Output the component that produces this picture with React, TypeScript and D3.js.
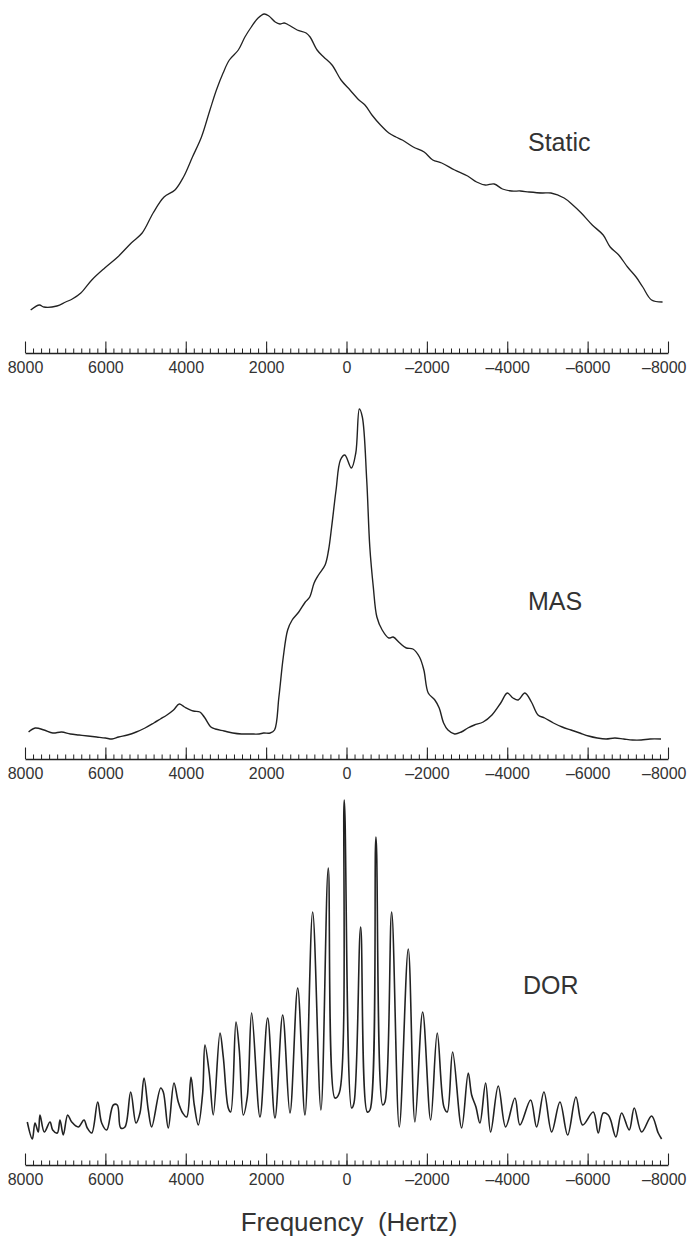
import React, { useEffect, useRef } from "react";
import * as d3 from "d3";

// frequency axis, drawn from +8000 Hz on the left to -8000 Hz on the right
const majorTicks = [8000, 6000, 4000, 2000, 0, -2000, -4000, -6000, -8000];
const tickLabels = ["8000", "6000", "4000", "2000", "0", "–2000", "–4000", "–6000", "–8000"];
const minorTicks = d3.range(-8000, 8001, 200);
const panelNames = ["Static", "MAS", "DOR"];

// static spectrum (Hz, arbitrary intensity)
const staticFreq = [
  7859, 7640, 7531, 7206, 6988, 6824, 6611, 6338, 6016, 5693, 5356, 5085, 4812, 4540, 4269, 4056,
  3833, 3609, 3398, 3237, 3071, 2915, 2692, 2528, 2369, 2200, 2047, 1930, 1774, 1657, 1550, 1439,
  1228, 1005, 906, 732, 568, 360, 136, -87, -310, -459, -633, -846, -1054, -1228, -1389, -1662,
  -1932, -2146, -2369, -2692, -3014, -3237, -3455, -3674, -3882, -4105, -4328, -4544, -4874, -5087,
  -5415, -5631, -5842, -6115, -6387, -6561, -6774, -6993, -7206, -7372, -7591, -7864,
];
const staticAmp = [
  10, 15, 13, 14, 18, 21, 27, 40, 52, 63, 77, 87, 107, 123, 130, 143,
  163, 183, 210, 230, 247, 260, 270, 283, 293, 302, 306, 304, 298, 296, 297, 295,
  290, 287, 283, 270, 263, 255, 240, 230, 220, 215, 205, 195, 187, 183, 180, 173,
  168, 160, 157, 150, 144, 138, 135, 136, 131, 129, 129, 128, 127, 127,
  122, 115, 107, 95, 85, 73, 65, 53, 43, 33, 20, 18,
];

// magic angle spinning spectrum
const masFreq = [
  7911, 7747, 7526, 7308, 7090, 6871, 6653, 6435, 6216, 5998, 5834, 5670, 5450, 5232, 5013, 4795,
  4631, 4468, 4304, 4162, 4031, 3813, 3649, 3540, 3374, 3265, 3046, 2828, 2610, 2391, 2173, 2064,
  1900, 1791, 1682, 1573, 1464, 1352, 1188, 1025, 915, 806, 697, 533, 446, 370, 260, 151, 42,
  -122, -231, -320, -394, -503, -580, -667, -756, -888, -1052, -1161, -1325, -1488, -1652, -1816,
  -1925, -2034, -2198, -2307, -2416, -2525, -2691, -2855, -3019, -3183, -3401, -3619, -3837, -4001,
  -4143, -4274, -4438, -4601, -4765, -4931, -5149, -5368, -5586, -5805, -6023, -6241, -6459, -6678,
  -6898, -7117, -7335, -7554, -7826,
];
const masAmp = [
  13, 17, 15, 12, 13, 11, 10, 9, 8, 7, 6, 8, 10, 13, 17, 22,
  26, 30, 35, 41, 38, 34, 33, 28, 18, 16, 14, 12, 11, 11, 11, 12,
  12, 15, 48, 88, 115, 125, 133, 143, 148, 162, 170, 180, 195, 218, 255, 285, 290,
  277, 292, 336, 328, 265, 198, 158, 128, 115, 107, 108, 102, 97, 96, 88,
  75, 52, 45, 37, 22, 15, 11, 13, 17, 20, 23, 30, 42, 52,
  47, 45, 52, 43, 30, 27, 22, 18, 15, 12, 9, 7, 6, 7,
  6, 5, 5, 6, 6,
];

// double rotation spectrum
const dorFreq = [
  7943, 7818, 7751, 7669, 7627, 7520, 7378, 7311, 7196, 7129, 7047, 6938, 6838, 6674, 6532, 6450,
  6340, 6191, 6092, 5967, 5803, 5704, 5619, 5512, 5370, 5238, 5139, 5039, 4932, 4848, 4624, 4559,
  4435, 4293, 4186, 4076, 3977, 3870, 3788, 3688, 3579, 3522, 3415, 3315, 3148, 3066, 2942, 2882,
  2750, 2668, 2569, 2469, 2360, 2153, 1962, 1780, 1588, 1407, 1215, 1034, 842, 636, 454, 287, 180,
  56, -128, -186, -352, -517, -584, -733, -900, -957, -1124, -1313, -1537, -1703, -1895, -2094,
  -2258, -2425, -2507, -2641, -2865, -3029, -3114, -3221, -3320, -3462, -3586, -3776, -3960, -4191,
  -4316, -4582, -4731, -4913, -5105, -5311, -5503, -5709, -5876, -6140, -6264, -6388, -6513, -6573,
  -6704, -6846, -7035, -7160, -7344, -7592, -7757, -7841,
];
const dorAmp = [
  23, 6, 22, 13, 30, 13, 23, 15, 12, 25, 10, 30, 23, 18, 25, 17,
  12, 43, 22, 15, 40, 40, 17, 18, 53, 22, 32, 67, 35, 18, 57, 53,
  17, 62, 43, 32, 28, 68, 40, 20, 52, 100, 72, 30, 112, 88, 37, 33,
  123, 95, 30, 48, 132, 28, 127, 27, 130, 32, 157, 30, 233, 35, 277, 47, 52,
  345, 37, 42, 218, 33, 35, 308, 40, 43, 233, 18, 196, 23, 133, 25,
  112, 38, 33, 93, 17, 72, 50, 38, 22, 62, 13, 59, 18, 47,
  20, 45, 18, 53, 13, 43, 10, 48, 20, 33, 12, 32, 30, 25,
  8, 32, 15, 37, 13, 29, 12, 6,
];

const panels = [
  { name: panelNames[0], freq: staticFreq, amp: staticAmp, max: 306, zeroY: 320, topY: 14, axisY: 353, labelX: 528, labelY: 151, stroke: 1.3 },
  { name: panelNames[1], freq: masFreq, amp: masAmp, max: 336, zeroY: 745, topY: 409, axisY: 759, labelX: 528, labelY: 610, stroke: 1.4 },
  { name: panelNames[2], freq: dorFreq, amp: dorAmp, max: 345, zeroY: 1145, topY: 800, axisY: 1165, labelX: 523, labelY: 994, stroke: 1.6 },
];

const FONT = "'Liberation Sans', Arial, Helvetica, sans-serif";
const INK = "#222";

export default function App() {
  const ref = useRef<SVGSVGElement>(null);

  useEffect(() => {
    const svg = d3.select(ref.current);
    svg.selectAll("*").remove();

    const x = d3.scaleLinear().domain([8000, -8000]).range([25, 668]);

    panels.forEach((p) => {
      const y = d3.scaleLinear().domain([0, p.max]).range([p.zeroY, p.topY]);

      const line = d3
        .line<number>()
        .x((d, i) => x(p.freq[i]))
        .y((d) => y(d))
        .curve(d3.curveCatmullRom.alpha(0.5));

      svg
        .append("path")
        .datum(p.amp)
        .attr("d", line)
        .attr("fill", "none")
        .attr("stroke", INK)
        .attr("stroke-width", p.stroke)
        .attr("stroke-linejoin", "round");

      // minor ticks every 200 Hz, pointing up
      const minor = svg
        .append("g")
        .attr("transform", `translate(0,${p.axisY})`)
        .call(
          d3.axisBottom(x).tickValues(minorTicks).tickSize(-4.5).tickSizeOuter(0).tickFormat(() => "")
        );
      minor.selectAll("line").attr("stroke", INK).attr("stroke-width", 1);
      minor.select(".domain").attr("stroke", INK).attr("stroke-width", 1.3);

      // major ticks + labels
      const major = svg
        .append("g")
        .attr("transform", `translate(0,${p.axisY})`)
        .call(
          d3
            .axisBottom(x)
            .tickValues(majorTicks)
            .tickSize(-11.5)
            .tickSizeOuter(0)
            .tickPadding(9)
            .tickFormat((d, i) => tickLabels[i])
        );
      major.select(".domain").remove();
      major.selectAll("line").attr("stroke", INK).attr("stroke-width", 1.1);
      major
        .selectAll("text")
        .attr("font-family", FONT)
        .attr("font-size", 16)
        .attr("fill", "#333");
      // keep the last label inside the page
      major
        .selectAll<SVGTextElement, number>("text")
        .filter((d) => d === -8000)
        .attr("text-anchor", "end")
        .attr("x", 18);

      svg
        .append("text")
        .attr("x", p.labelX)
        .attr("y", p.labelY)
        .attr("font-family", FONT)
        .attr("font-size", 25)
        .attr("fill", "#333")
        .text(p.name);
    });

    svg
      .append("text")
      .attr("x", 349)
      .attr("y", 1231)
      .attr("text-anchor", "middle")
      .attr("font-family", FONT)
      .attr("font-size", 26)
      .attr("fill", "#333")
      .style("white-space", "pre")
      .text("Frequency  (Hertz)");
  }, []);

  return (
    <svg
      ref={ref}
      width={688}
      height={1236}
      style={{ position: "absolute", left: 0, top: 0, background: "#fff" }}
    />
  );
}
